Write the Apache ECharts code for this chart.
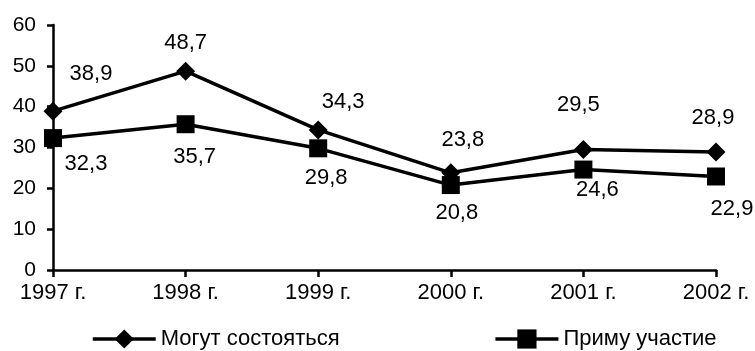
<!DOCTYPE html>
<html><head><meta charset="utf-8">
<script src="https://cdn.jsdelivr.net/npm/echarts@6/dist/echarts.min.js"></script>
<style>html,body{margin:0;padding:0;background:#fff}#c{width:755px;height:351px}</style>
</head><body><div id="c"></div>
<script>
const categories = ['1997 г.','1998 г.','1999 г.','2000 г.','2001 г.','2002 г.'];
const seriesNames = ['Могут состояться','Приму участие'];
const canHappen = [38.9, 48.7, 34.3, 23.8, 29.5, 28.9];
const willTakePart = [32.3, 35.7, 29.8, 20.8, 24.6, 22.9];
const yTicks = {min: 0, max: 60, interval: 10};
// label offsets (style only)
const offs1 = [[38,-37],[0,-28],[25,-28],[12,-33],[-5,-45],[-3,-34]];
const offs2 = [[33,26],[9,33],[8,30],[6,28],[14,20],[16,32]];
const FONT = 'Liberation Sans, Arial, sans-serif';
function build(vals, offs){
  return vals.map((v,i)=>({value:v, label:{offset:offs[i]}}));
}
const chart = echarts.init(document.getElementById('c'), null, {renderer:'canvas'});
chart.setOption({
  animation:false,
  backgroundColor:'#fff',
  grid:{left:53, right:39, top:25, bottom:81, containLabel:false},
  legend:{
    left:91, top:328, padding:0, itemWidth:63, itemHeight:24, itemGap:154, itemTextGap:4,
    textStyle:{color:'#000', fontSize:22, fontFamily:FONT},
    itemStyle:{color:'#000'}, lineStyle:{color:'#000', width:3.5},
    data:seriesNames
  },
  xAxis:{
    type:'category', data:categories, boundaryGap:false,
    axisLine:{lineStyle:{color:'#000', width:2.5}},
    axisTick:{show:true, length:7, alignWithLabel:true, lineStyle:{color:'#000', width:2.5}},
    axisLabel:{color:'#000', fontSize:22, fontFamily:FONT, margin:12, interval:0}
  },
  yAxis:{
    type:'value', min:yTicks.min, max:yTicks.max, interval:yTicks.interval,
    splitLine:{show:false},
    axisLine:{show:true, lineStyle:{color:'#000', width:2.5}},
    axisTick:{show:true, length:6, lineStyle:{color:'#000', width:2.5}},
    axisLabel:{color:'#000', fontSize:21, fontFamily:FONT, margin:17, formatter:v=>String(v)}
  },
  series:[
    {name:seriesNames[0], type:'line', data:build(canHappen, offs1),
     symbol:'diamond', symbolSize:19,
     lineStyle:{color:'#000', width:3.5}, itemStyle:{color:'#000'},
     label:{show:true, position:'inside', color:'#000', fontSize:22, fontFamily:FONT,
       formatter:p=>String(p.value).replace('.',',')}},
    {name:seriesNames[1], type:'line', data:build(willTakePart, offs2),
     symbol:'rect', symbolSize:18,
     lineStyle:{color:'#000', width:3.5}, itemStyle:{color:'#000'},
     label:{show:true, position:'inside', color:'#000', fontSize:22, fontFamily:FONT,
       formatter:p=>String(p.value).replace('.',',')}}
  ]
});
</script></body></html>
